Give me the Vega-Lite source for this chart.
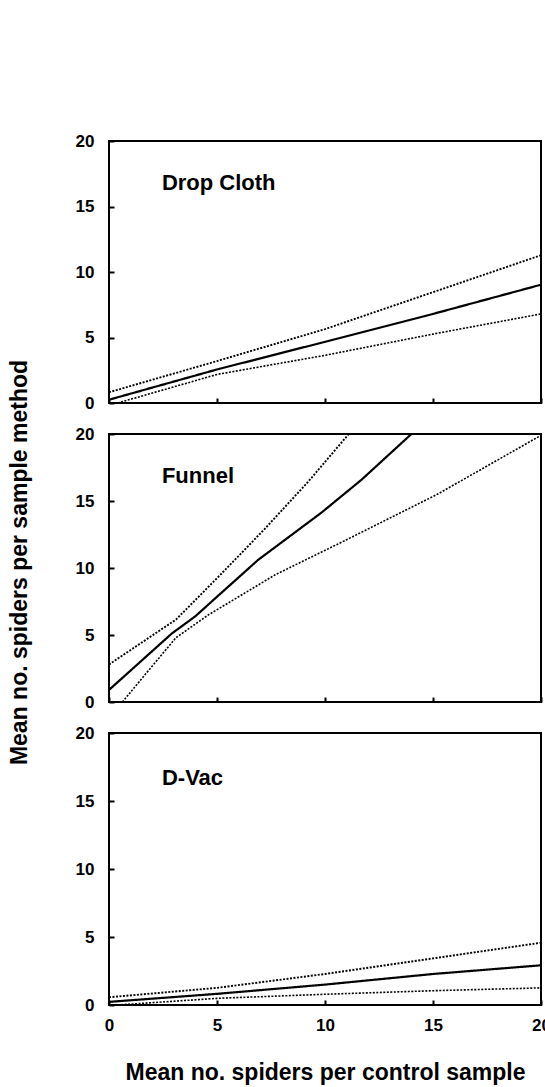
{
  "$schema": "https://vega.github.io/schema/vega-lite/v6.json",
  "padding": {"left": 7, "top": 131, "right": 5, "bottom": 5},
  "spacing": 31,
  "bounds": "flush",
  "datasets": {
    "lines": [
      {"panel": "Drop Cloth", "series": "upper", "x": 0, "y": 0.82},
      {"panel": "Drop Cloth", "series": "upper", "x": 5, "y": 3.2},
      {"panel": "Drop Cloth", "series": "upper", "x": 10, "y": 5.64},
      {"panel": "Drop Cloth", "series": "upper", "x": 15, "y": 8.46},
      {"panel": "Drop Cloth", "series": "upper", "x": 20, "y": 11.28},
      {"panel": "Drop Cloth", "series": "fit", "x": 0, "y": 0.25},
      {"panel": "Drop Cloth", "series": "fit", "x": 5, "y": 2.56},
      {"panel": "Drop Cloth", "series": "fit", "x": 10, "y": 4.67},
      {"panel": "Drop Cloth", "series": "fit", "x": 15, "y": 6.8},
      {"panel": "Drop Cloth", "series": "fit", "x": 20, "y": 9.03},
      {"panel": "Drop Cloth", "series": "lower", "x": 0.4, "y": 0},
      {"panel": "Drop Cloth", "series": "lower", "x": 5, "y": 2.18},
      {"panel": "Drop Cloth", "series": "lower", "x": 10, "y": 3.64},
      {"panel": "Drop Cloth", "series": "lower", "x": 15, "y": 5.26},
      {"panel": "Drop Cloth", "series": "lower", "x": 20, "y": 6.8},
      {"panel": "Funnel", "series": "upper", "x": 0, "y": 2.8},
      {"panel": "Funnel", "series": "upper", "x": 3.1, "y": 6.15},
      {"panel": "Funnel", "series": "upper", "x": 5.1, "y": 9.4},
      {"panel": "Funnel", "series": "upper", "x": 7.2, "y": 12.9},
      {"panel": "Funnel", "series": "upper", "x": 9.2, "y": 16.4},
      {"panel": "Funnel", "series": "upper", "x": 11.1, "y": 20},
      {"panel": "Funnel", "series": "fit", "x": 0, "y": 0.9},
      {"panel": "Funnel", "series": "fit", "x": 2.9, "y": 5.1},
      {"panel": "Funnel", "series": "fit", "x": 4.0, "y": 6.4},
      {"panel": "Funnel", "series": "fit", "x": 5.1, "y": 8.0},
      {"panel": "Funnel", "series": "fit", "x": 6.9, "y": 10.6},
      {"panel": "Funnel", "series": "fit", "x": 9.85, "y": 14.15},
      {"panel": "Funnel", "series": "fit", "x": 11.7, "y": 16.6},
      {"panel": "Funnel", "series": "fit", "x": 14.0, "y": 20},
      {"panel": "Funnel", "series": "lower", "x": 0.62, "y": 0},
      {"panel": "Funnel", "series": "lower", "x": 1.7, "y": 2.1},
      {"panel": "Funnel", "series": "lower", "x": 3.1, "y": 4.8},
      {"panel": "Funnel", "series": "lower", "x": 4.6, "y": 6.5},
      {"panel": "Funnel", "series": "lower", "x": 7.7, "y": 9.5},
      {"panel": "Funnel", "series": "lower", "x": 10.8, "y": 11.95},
      {"panel": "Funnel", "series": "lower", "x": 15.2, "y": 15.5},
      {"panel": "Funnel", "series": "lower", "x": 20, "y": 19.9},
      {"panel": "D-Vac", "series": "upper", "x": 0, "y": 0.57},
      {"panel": "D-Vac", "series": "upper", "x": 5, "y": 1.26},
      {"panel": "D-Vac", "series": "upper", "x": 10, "y": 2.28},
      {"panel": "D-Vac", "series": "upper", "x": 15, "y": 3.43},
      {"panel": "D-Vac", "series": "upper", "x": 20, "y": 4.58},
      {"panel": "D-Vac", "series": "fit", "x": 0, "y": 0.23},
      {"panel": "D-Vac", "series": "fit", "x": 5, "y": 0.82},
      {"panel": "D-Vac", "series": "fit", "x": 10, "y": 1.5},
      {"panel": "D-Vac", "series": "fit", "x": 15, "y": 2.28},
      {"panel": "D-Vac", "series": "fit", "x": 20, "y": 2.92},
      {"panel": "D-Vac", "series": "lower", "x": 0.4, "y": 0},
      {"panel": "D-Vac", "series": "lower", "x": 5, "y": 0.49},
      {"panel": "D-Vac", "series": "lower", "x": 10, "y": 0.79},
      {"panel": "D-Vac", "series": "lower", "x": 15, "y": 1.05},
      {"panel": "D-Vac", "series": "lower", "x": 20, "y": 1.26}
    ]
  },
  "vconcat": [
    {
      "width": 432, "height": 262,
      "layer": [
        {
          "data": {"name": "lines"},
          "transform": [{"filter": "datum.panel === 'Drop Cloth'"}],
          "mark": {"type": "line", "color": "black", "clip": true},
          "encoding": {
            "x": {"field": "x", "type": "quantitative", "scale": {"domain": [0, 20], "nice": false}, "axis": {"values": [0, 5, 10, 15, 20], "labels": false, "title": null}},
            "y": {"field": "y", "type": "quantitative", "scale": {"domain": [0, 20], "nice": false}, "axis": {"values": [0, 5, 10, 15, 20], "title": null}},
            "detail": {"field": "series"},
            "strokeDash": {"field": "series", "type": "nominal", "scale": {"domain": ["fit", "upper", "lower"], "range": [[1, 0], [2, 1.5], [2, 1.5]]}, "legend": null},
            "strokeWidth": {"field": "series", "type": "nominal", "scale": {"domain": ["fit", "upper", "lower"], "range": [2.2, 1.6, 1.6]}, "legend": null}
          }
        },
        {
          "data": {"values": [{"label": "Drop Cloth"}]},
          "mark": {"type": "text", "align": "left", "baseline": "middle", "fontSize": 22, "fontWeight": "bold", "font": "Liberation Sans", "color": "black"},
          "encoding": {"x": {"datum": 2.45, "type": "quantitative"}, "y": {"datum": 16.8, "type": "quantitative"}, "text": {"field": "label"}}
        }
      ]
    },
    {
      "width": 432, "height": 268,
      "layer": [
        {
          "data": {"name": "lines"},
          "transform": [{"filter": "datum.panel === 'Funnel'"}],
          "mark": {"type": "line", "color": "black", "clip": true},
          "encoding": {
            "x": {"field": "x", "type": "quantitative", "scale": {"domain": [0, 20], "nice": false}, "axis": {"values": [0, 5, 10, 15, 20], "labels": false, "title": null}},
            "y": {"field": "y", "type": "quantitative", "scale": {"domain": [0, 20], "nice": false}, "axis": {"values": [0, 5, 10, 15, 20], "title": "Mean no. spiders per sample method", "titlePadding": 44, "titleY": 128}},
            "detail": {"field": "series"},
            "strokeDash": {"field": "series", "type": "nominal", "scale": {"domain": ["fit", "upper", "lower"], "range": [[1, 0], [2, 1.5], [2, 1.5]]}, "legend": null},
            "strokeWidth": {"field": "series", "type": "nominal", "scale": {"domain": ["fit", "upper", "lower"], "range": [2.2, 1.6, 1.6]}, "legend": null}
          }
        },
        {
          "data": {"values": [{"label": "Funnel"}]},
          "mark": {"type": "text", "align": "left", "baseline": "middle", "fontSize": 22, "fontWeight": "bold", "font": "Liberation Sans", "color": "black"},
          "encoding": {"x": {"datum": 2.45, "type": "quantitative"}, "y": {"datum": 16.9, "type": "quantitative"}, "text": {"field": "label"}}
        }
      ]
    },
    {
      "width": 432, "height": 272,
      "layer": [
        {
          "data": {"name": "lines"},
          "transform": [{"filter": "datum.panel === 'D-Vac'"}],
          "mark": {"type": "line", "color": "black", "clip": true},
          "encoding": {
            "x": {"field": "x", "type": "quantitative", "scale": {"domain": [0, 20], "nice": false}, "axis": {"values": [0, 5, 10, 15, 20], "title": "Mean no. spiders per control sample", "titlePadding": 28, "labelFlush": false}},
            "y": {"field": "y", "type": "quantitative", "scale": {"domain": [0, 20], "nice": false}, "axis": {"values": [0, 5, 10, 15, 20], "title": null}},
            "detail": {"field": "series"},
            "strokeDash": {"field": "series", "type": "nominal", "scale": {"domain": ["fit", "upper", "lower"], "range": [[1, 0], [2, 1.5], [2, 1.5]]}, "legend": null},
            "strokeWidth": {"field": "series", "type": "nominal", "scale": {"domain": ["fit", "upper", "lower"], "range": [2.2, 1.6, 1.6]}, "legend": null}
          }
        },
        {
          "data": {"values": [{"label": "D-Vac"}]},
          "mark": {"type": "text", "align": "left", "baseline": "middle", "fontSize": 22, "fontWeight": "bold", "font": "Liberation Sans", "color": "black"},
          "encoding": {"x": {"datum": 2.45, "type": "quantitative"}, "y": {"datum": 16.7, "type": "quantitative"}, "text": {"field": "label"}}
        }
      ]
    }
  ],
  "config": {
    "view": {"stroke": "black", "strokeWidth": 2},
    "axis": {
      "grid": false, "domain": false,
      "tickSize": -5, "tickWidth": 2, "tickColor": "black",
      "labelFont": "Liberation Sans", "labelFontWeight": "bold", "labelFontSize": 17, "labelColor": "black",
      "titleFont": "Liberation Sans", "titleFontSize": 23, "titleFontWeight": "bold", "titleColor": "black"
    },
    "axisX": {"labelPadding": 17},
    "axisY": {"labelPadding": 20}
  }
}
